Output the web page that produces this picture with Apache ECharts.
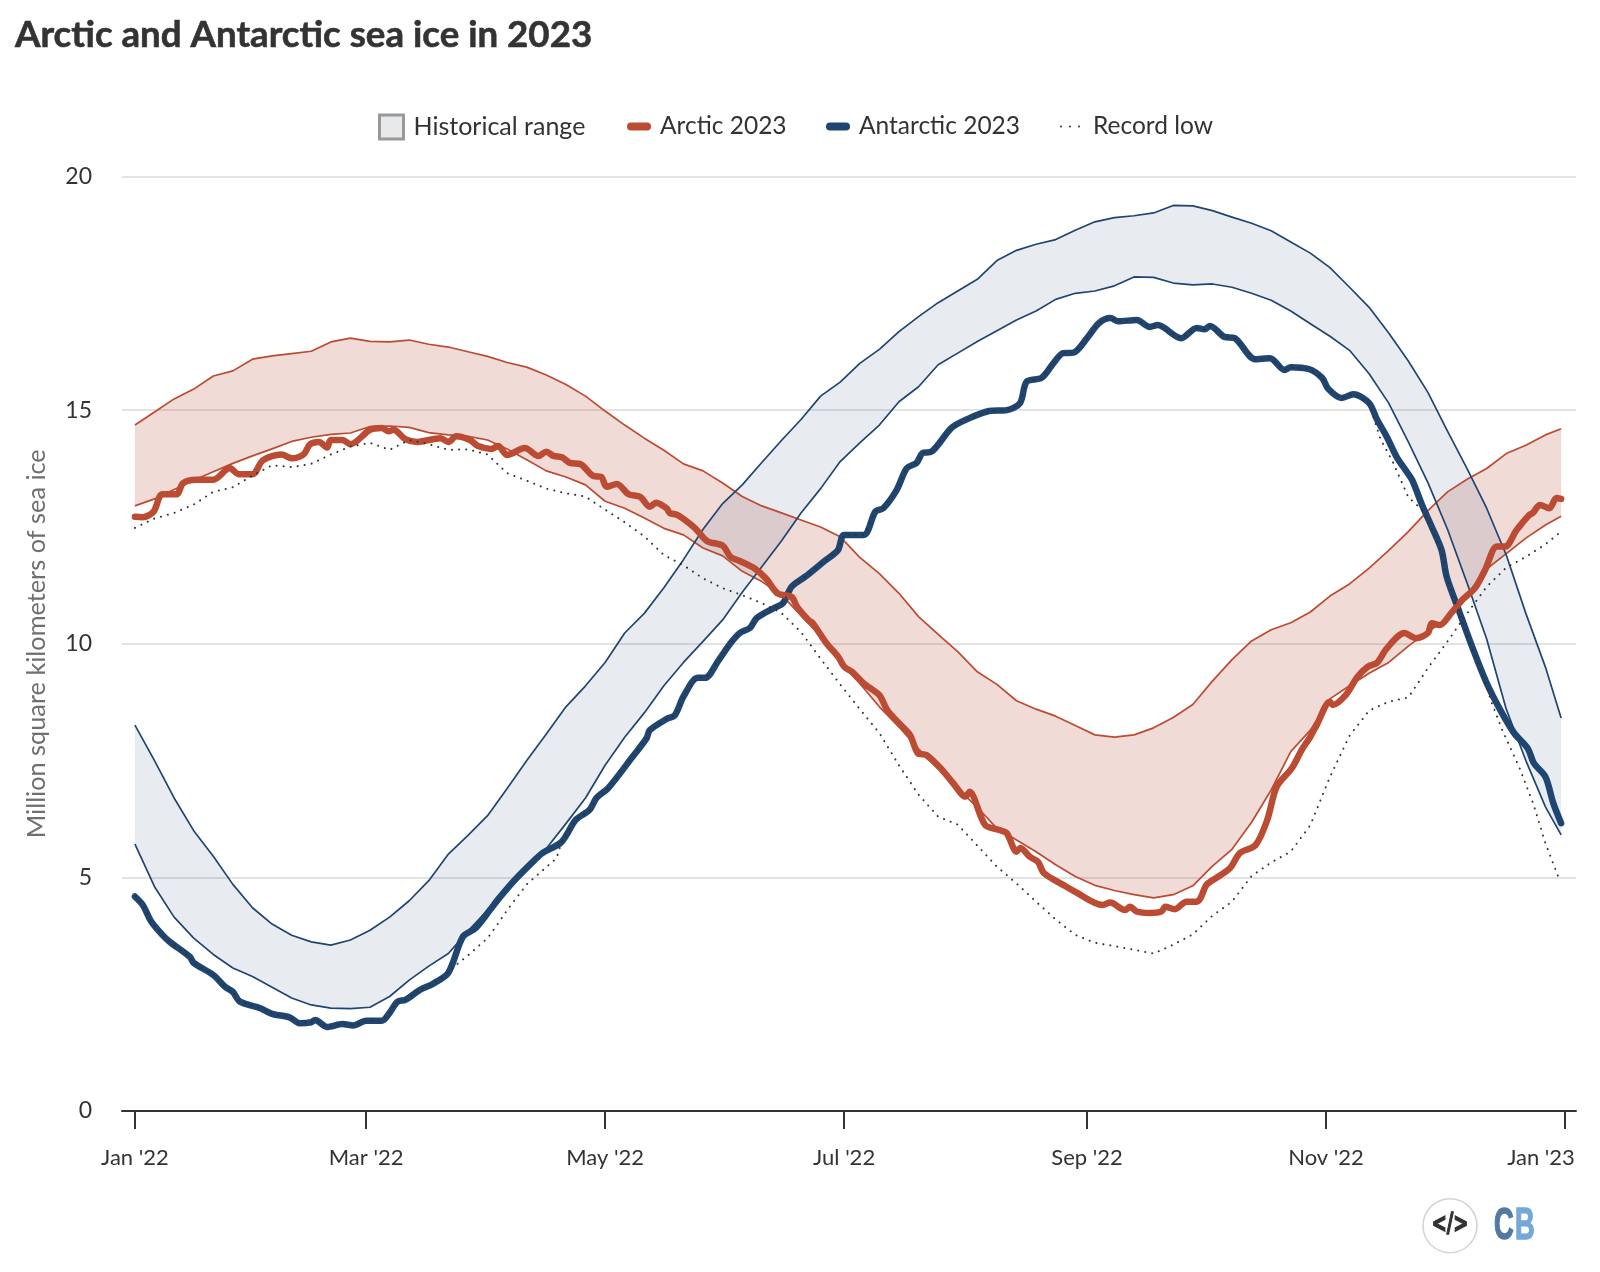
<!DOCTYPE html>
<html>
<head>
<meta charset="utf-8">
<title>Arctic and Antarctic sea ice in 2023</title>
<script src="https://cdn.jsdelivr.net/npm/echarts@6/dist/echarts.min.js"></script>
<style>
  html, body { margin: 0; padding: 0; background: #fff; }
  #chart { width: 1600px; height: 1272px; }
</style>
</head>
<body>
<div id="chart"></div>
<script>
// days since 1 Jan, read every 5 days for the range lines
var days = [0,5,10,15,20,25,30,35,40,45,50,55,60,65,70,75,80,85,90,95,
  100,105,110,115,120,125,130,135,140,145,150,155,160,165,170,175,180,185,190,195,
  200,205,210,215,220,225,230,235,240,245,250,255,260,265,270,275,280,285,290,295,
  300,305,310,315,320,325,330,335,340,345,350,355,360,364];

var tickDays = [0,59,120,181,243,304,365];
var tickLabels = ["Jan '22","Mar '22","May '22","Jul '22","Sep '22","Nov '22","Jan '23"];

var arcticMax = [14.68,14.96,15.24,15.45,15.73,15.84,16.09,16.16,16.21,16.26,
  16.46,16.54,16.47,16.46,16.5,16.41,16.35,16.25,16.15,16.02,
  15.92,15.75,15.55,15.3,14.98,14.68,14.4,14.14,13.85,13.7,
  13.44,13.15,12.95,12.8,12.65,12.5,12.29,11.85,11.5,11.08,
  10.58,10.2,9.83,9.4,9.13,8.78,8.6,8.45,8.25,8.05,
  8.0,8.05,8.2,8.42,8.7,9.2,9.66,10.06,10.3,10.45,
  10.68,11.02,11.28,11.62,12.0,12.4,12.85,13.25,13.52,13.75,
  14.07,14.25,14.47,14.6];
var arcticMin = [12.95,13.1,13.3,13.5,13.68,13.86,14.02,14.17,14.33,14.42,
  14.48,14.51,14.65,14.66,14.63,14.52,14.47,14.44,14.36,14.17,
  13.94,13.7,13.57,13.4,13.05,12.9,12.69,12.47,12.33,12.05,
  11.88,11.55,11.33,11.05,10.6,10.16,9.6,9.15,8.65,8.22,
  7.75,7.33,6.9,6.5,6.05,5.8,5.55,5.27,5.02,4.83,
  4.72,4.63,4.56,4.63,4.82,5.24,5.6,6.18,6.87,7.69,
  8.15,8.82,9.1,9.37,9.6,9.95,10.26,10.53,11.05,11.6,
  11.93,12.26,12.54,12.73];
var arcticRecord = [12.48,12.68,12.8,12.98,13.25,13.35,13.6,13.82,13.78,13.85,
  14.05,14.22,14.3,14.15,14.36,14.27,14.15,14.16,14.05,13.65,
  13.49,13.32,13.22,13.15,12.87,12.6,12.3,11.9,11.68,11.4,
  11.19,11.04,10.87,10.66,10.25,9.68,9.13,8.6,8.09,7.4,
  6.77,6.3,6.13,5.68,5.23,4.87,4.48,4.1,3.77,3.6,
  3.53,3.45,3.37,3.56,3.78,4.18,4.48,5.03,5.32,5.55,
  6.12,7.15,8.03,8.57,8.76,8.85,9.48,10.05,10.65,11.22,
  11.63,11.86,12.13,12.4];

var antarcticMax = [8.26,7.5,6.7,6.0,5.45,4.85,4.35,4.0,3.76,3.62,
  3.55,3.66,3.87,4.15,4.5,4.93,5.5,5.9,6.32,6.9,
  7.5,8.07,8.65,9.1,9.6,10.23,10.65,11.2,11.8,12.45,
  13.0,13.4,13.88,14.35,14.8,15.3,15.6,16.0,16.3,16.68,
  17.0,17.3,17.55,17.8,18.2,18.42,18.55,18.65,18.85,19.03,
  19.12,19.16,19.22,19.38,19.37,19.27,19.13,19.0,18.84,18.6,
  18.36,18.05,17.63,17.2,16.65,16.05,15.38,14.55,13.75,12.9,
  11.9,10.65,9.5,8.41];
var antarcticMin = [5.71,4.8,4.15,3.7,3.35,3.06,2.88,2.65,2.42,2.27,
  2.2,2.19,2.22,2.45,2.8,3.1,3.37,3.85,4.3,4.8,
  5.25,5.62,6.15,6.7,7.4,8.0,8.52,9.1,9.6,10.05,
  10.51,11.1,11.65,12.2,12.8,13.32,13.9,14.3,14.68,15.18,
  15.5,15.97,16.22,16.47,16.7,16.93,17.12,17.37,17.5,17.55,
  17.66,17.85,17.84,17.72,17.68,17.7,17.63,17.5,17.35,17.12,
  16.85,16.58,16.28,15.78,15.15,14.32,13.45,12.45,11.3,10.1,
  8.6,7.5,6.51,5.91];

// the 2023 lines wiggle, so they are read at the turning points
var arctic2023Days = [0,2,4.7,7,10.6,12.3,15.7,20,24.2,26.5,30,32.7,37.4,40,43,44.7,47,49,50,53,55,60,63,64.7,66,69,72,78,80,82,
  85.5,87.6,91,92.7,95,99.5,103,105,106.8,109,111,113.6,117,119,120.4,123,126,129,131.4,133,135.7,136.5,138.6,143,146,150,152,154.4,158,161,
  164,167.6,169,172,173,176.5,179.5,181,183,186,190,192,195,197.8,199.8,202,206,208.8,212,213,217,220.8,222.5,225,226,228.4,230.5,232,236.9,240,
  247,248.9,252.7,254,255.7,259,262,263,265.4,268.4,271,272,273.5,276,279.5,282,286,289,291.4,295.3,297.8,300,301.6,305,305.7,309,312,314.7,317,319.5,
  324,327,330,331,333,336,338.8,342,344.6,347.6,349.7,352.6,355.8,356.8,358.6,361,362.8,364];
var arctic2023 = [12.72,12.71,12.82,13.2,13.2,13.44,13.51,13.51,13.76,13.63,13.63,13.93,14.05,13.97,14.05,14.27,14.32,14.2,14.36,14.36,14.27,14.58,14.62,14.55,14.58,14.38,14.32,14.4,14.32,14.44,
  14.36,14.23,14.17,14.23,14.04,14.19,14.02,14.11,14.02,13.99,13.87,13.85,13.59,13.57,13.36,13.42,13.2,13.14,12.93,13.02,12.9,12.8,12.75,12.47,12.2,12.1,11.86,11.77,11.62,11.4,
  11.08,11.0,10.79,10.5,10.44,10.01,9.72,9.51,9.4,9.15,8.9,8.58,8.3,8.05,7.66,7.62,7.3,7.02,6.73,6.83,6.12,6.01,5.95,5.55,5.63,5.44,5.33,5.09,4.84,4.69,
  4.41,4.46,4.3,4.37,4.27,4.24,4.27,4.37,4.32,4.48,4.48,4.56,4.84,4.99,5.2,5.52,5.69,6.23,6.94,7.34,7.73,8.01,8.26,8.76,8.69,8.9,9.29,9.51,9.59,9.9,
  10.23,10.12,10.23,10.44,10.4,10.66,10.94,11.19,11.58,12.08,12.08,12.43,12.75,12.8,12.97,12.9,13.12,13.1];

var antarctic2023Days = [0,2,4.2,7,8.9,14,15,20,23,25,26.8,32,35,39.6,42,45,46,49,53,55.7,59,63,65,67,69,72.7,76,80,83.7,87,
  90.6,93,97,102,104,108.9,112.5,116,117.8,120.8,127,130.6,131.4,135.7,137.8,140,143.6,145.5,149,152,154.4,157,158.7,163,165.4,167.6,171,175.7,179.4,181,
  186,189,191,194.4,197,199.5,201,203.3,208.4,212,218,222.5,225.9,227.6,231.4,234.4,236.9,239.5,243,246,249,251,255.7,259,261,267,271,273,274.4,278,
  280.7,285.9,289.7,293.4,295,299.6,303,304.6,308,311,315,317,319.5,322,324.6,326,328.7,331,333.5,334.8,338,341,345,348.5,352,355.5,357,360,362,364];
var antarctic2023 = [4.59,4.41,4.05,3.77,3.62,3.3,3.17,2.91,2.66,2.55,2.34,2.2,2.08,2.0,1.88,1.9,1.95,1.8,1.86,1.83,1.93,1.93,2.1,2.34,2.38,2.59,2.72,2.96,3.73,3.92,
  4.3,4.56,4.95,5.37,5.52,5.76,6.23,6.44,6.7,6.91,7.58,7.98,8.15,8.39,8.47,8.87,9.27,9.27,9.65,10.01,10.23,10.34,10.55,10.76,10.87,11.22,11.43,11.75,12.0,12.33,
  12.33,12.83,12.9,13.29,13.76,13.87,14.08,14.11,14.62,14.79,14.98,15.0,15.15,15.61,15.69,16.0,16.22,16.23,16.54,16.86,16.97,16.9,16.93,16.78,16.82,16.54,16.76,16.73,16.8,16.57,
  16.54,16.09,16.11,15.86,15.92,15.88,15.69,15.45,15.26,15.34,15.15,14.8,14.43,14.0,13.68,13.5,12.93,12.5,12.0,11.43,10.69,10.0,9.16,8.58,8.09,7.76,7.45,7.15,6.59,6.16];

// most of the Antarctic record low is last year's line, so it runs inside the thick line
var antarcticRecordDays = [0,2,4.2,7,8.9,14,15,20,23,25,26.8,32,35,39.6,42,45,46,49,53,55.7,59,63,65,67,69,72.7,76,80,81,85,
  90,93,95,100,105,107.6,108.9,112.5,116,117.8,120.8,127,130.6,131.4,135.7,137.8,140,143.6,145.5,149,152,154.4,157,158.7,163,165.4,167.6,171,175.7,179.4,
  181,186,189,191,194.4,197,199.5,201,203.3,208.4,212,218,222.5,225.9,227.6,231.4,234.4,236.9,239.5,243,246,249,251,255.7,259,261,267,271,273,274.4,
  278,280.7,285.9,289.7,293.4,295,299.6,303,304.6,308,311,315,317.8,321,325,328.7,331,333.5,334.8,338,341,345,346,349,353.4,357,360,363.7];
var antarcticRecord = [4.59,4.41,4.05,3.77,3.62,3.3,3.17,2.91,2.66,2.55,2.34,2.2,2.08,2.0,1.88,1.9,1.95,1.8,1.86,1.83,1.93,1.93,2.1,2.34,2.38,2.59,2.72,2.96,3.06,3.33,
  3.7,4.05,4.3,4.85,5.22,5.41,5.76,6.23,6.44,6.7,6.91,7.58,7.98,8.15,8.39,8.47,8.87,9.27,9.27,9.65,10.01,10.23,10.34,10.55,10.76,10.87,11.22,11.43,11.75,12.0,
  12.33,12.33,12.83,12.9,13.29,13.76,13.87,14.08,14.11,14.62,14.79,14.98,15.0,15.15,15.61,15.69,16.0,16.22,16.23,16.54,16.86,16.97,16.9,16.93,16.78,16.82,16.54,16.76,16.73,16.8,
  16.57,16.54,16.09,16.11,15.86,15.92,15.88,15.69,15.45,15.26,15.34,15.15,14.4,13.9,13.14,12.85,12.45,11.95,11.4,10.65,9.95,9.1,8.8,8.15,7.34,6.55,5.73,4.92];

var RED = '#bb4b32';
var BLUE = '#1f4571';
var TEXT = '#333333';
var FONT = 'Lato';

function pts(x, values) {
  return x.map(function (d, i) { return [d, values[i]]; });
}

// the range is one polygon between its two edges, placed with the chart's own scales
function band(lower, upper, fill) {
  return {
    name: 'Historical range', type: 'custom', data: [0], silent: true,
    itemStyle: { color: '#e8e9ea' },
    renderItem: function (params, api) {
      var top = days.map(function (d, i) { return api.coord([d, upper[i]]); });
      var bottom = days.map(function (d, i) { return api.coord([d, lower[i]]); }).reverse();
      return { type: 'polygon', shape: { points: top.concat(bottom) }, style: { fill: fill } };
    }
  };
}

function thin(name, values, color) {
  return { name: name, type: 'line', data: pts(days, values), symbol: 'none', silent: true,
    lineStyle: { color: color, width: 1.7, join: 'round' } };
}

function thick(name, x, values, color) {
  return { name: name, type: 'line', data: pts(x, values), symbol: 'none', silent: true, smooth: 0.3,
    itemStyle: { color: color },
    lineStyle: { color: color, width: 6.5, cap: 'round', join: 'round' } };
}

function dotted(x, values) {
  return { name: 'Record low', type: 'line', data: pts(x, values), symbol: 'none', silent: true,
    itemStyle: { color: TEXT },
    lineStyle: { color: TEXT, width: 2, type: [0.1, 7], cap: 'round' } };
}

var pill = 'path://M4 0h16a4 4 0 0 1 0 8h-16a4 4 0 0 1 0-8z';
var threeDots = 'path://M0 1a1 1 0 1 0 2 0a1 1 0 1 0-2 0zM9 1a1 1 0 1 0 2 0a1 1 0 1 0-2 0zM18 1a1 1 0 1 0 2 0a1 1 0 1 0-2 0z';

function legendItem(name, left, top, extra) {
  var o = {
    left: left, top: top, selectedMode: false, padding: 0,
    data: [name],
    textStyle: { fontFamily: FONT, fontSize: 24.5, color: TEXT, padding: [0, 0, 0, 4] }
  };
  for (var k in extra) o[k] = extra[k];
  return o;
}

var series = [
  band(arcticMin, arcticMax, 'rgba(187,75,50,0.2)'),
  band(antarcticMin, antarcticMax, 'rgba(31,69,113,0.1)'),
  thin('Arctic max', arcticMax, RED),
  thin('Arctic min', arcticMin, RED),
  thin('Antarctic max', antarcticMax, BLUE),
  thin('Antarctic min', antarcticMin, BLUE),
  thick('Antarctic 2023', antarctic2023Days, antarctic2023, BLUE),
  thick('Arctic 2023', arctic2023Days, arctic2023, RED),
  dotted(days, arcticRecord),
  dotted(antarcticRecordDays, antarcticRecord)
];

var chart = echarts.init(document.getElementById('chart'));
chart.setOption({
  animation: false,
  backgroundColor: '#ffffff',
  title: {
    text: 'Arctic and Antarctic sea ice in 2023',
    left: 15, top: 17, padding: 0,
    textStyle: { fontFamily: FONT, fontSize: 36.7, fontWeight: 'bold', color: TEXT, textBorderColor: TEXT, textBorderWidth: 0.6 }
  },
  legend: [
    legendItem('Historical range', 378, 113.5, { icon: 'rect', itemWidth: 24, itemHeight: 24,
      itemStyle: { color: '#e8e9ea', borderColor: '#999999', borderWidth: 3 },
      textStyle: { fontFamily: FONT, fontSize: 25, color: TEXT, padding: [0, 0, 0, 5] } }),
    legendItem('Arctic 2023', 627, 114, { icon: pill, itemWidth: 24, itemHeight: 8,
      itemStyle: { color: RED } }),
    legendItem('Antarctic 2023', 826, 114, { icon: pill, itemWidth: 24, itemHeight: 8,
      itemStyle: { color: BLUE } }),
    legendItem('Record low', 1060, 114, { icon: threeDots, itemWidth: 20, itemHeight: 2,
      itemStyle: { color: TEXT }, textStyle: {
      fontFamily: FONT, fontSize: 24.5, color: TEXT, padding: [0, 0, 0, 8] } })
  ],
  grid: { left: 122, right: 24, top: 176.5, bottom: 161 },
  xAxis: {
    type: 'value', min: -3.3, max: 367.8,
    splitLine: { show: false },
    axisLine: { show: true, onZero: false, lineStyle: { color: TEXT, width: 2 } },
    axisTick: { show: true, length: 18, customValues: tickDays, lineStyle: { color: TEXT, width: 2 } },
    axisLabel: {
      customValues: tickDays, margin: 36, fontFamily: FONT, fontSize: 22, color: TEXT,
      formatter: function (v) {
        var label = tickLabels[tickDays.indexOf(v)];
        return v === 365 ? '{last|' + label + '}' : label;
      },
      rich: { last: { fontFamily: FONT, fontSize: 22, color: TEXT, padding: [0, 48, 0, 0] } }
    }
  },
  yAxis: {
    type: 'value', min: 0, max: 20, interval: 5,
    name: 'Million square kilometers of sea ice',
    nameLocation: 'middle', nameGap: 73, nameRotate: 90,
    nameTextStyle: { fontFamily: FONT, fontSize: 25.3, color: '#6f6f6f' },
    axisLine: { show: false }, axisTick: { show: false },
    axisLabel: { margin: 30, fontFamily: FONT, fontSize: 23, color: TEXT, padding: [3, 0, 0, 0] },
    splitLine: { lineStyle: { color: '#e3e3e3', width: 2 } }
  },
  series: series,
  graphic: [
    { type: 'circle', shape: { cx: 1450, cy: 1225.7, r: 27 }, style: { fill: '#fff', stroke: '#d9d3d5', lineWidth: 1.6 } },
    { type: 'text', x: 1450, y: 1225, scaleY: 1.5, style: { text: '</>', align: 'center', verticalAlign: 'middle',
      font: 'bold 18px "DejaVu Sans"', fill: TEXT, stroke: TEXT, lineWidth: 1 } },
    { type: 'text', x: 1494, y: 1227, scaleX: 0.62, style: { text: 'C', verticalAlign: 'middle',
      font: 'bold 44px "Liberation Sans"', fill: '#5279a1', stroke: '#5279a1', lineWidth: 1.5 } },
    { type: 'text', x: 1515, y: 1227, scaleX: 0.62, style: { text: 'B', verticalAlign: 'middle',
      font: 'bold 44px "Liberation Sans"', fill: '#74a8d8', stroke: '#74a8d8', lineWidth: 1.5 } }
  ]
});
</script>
</body>
</html>
